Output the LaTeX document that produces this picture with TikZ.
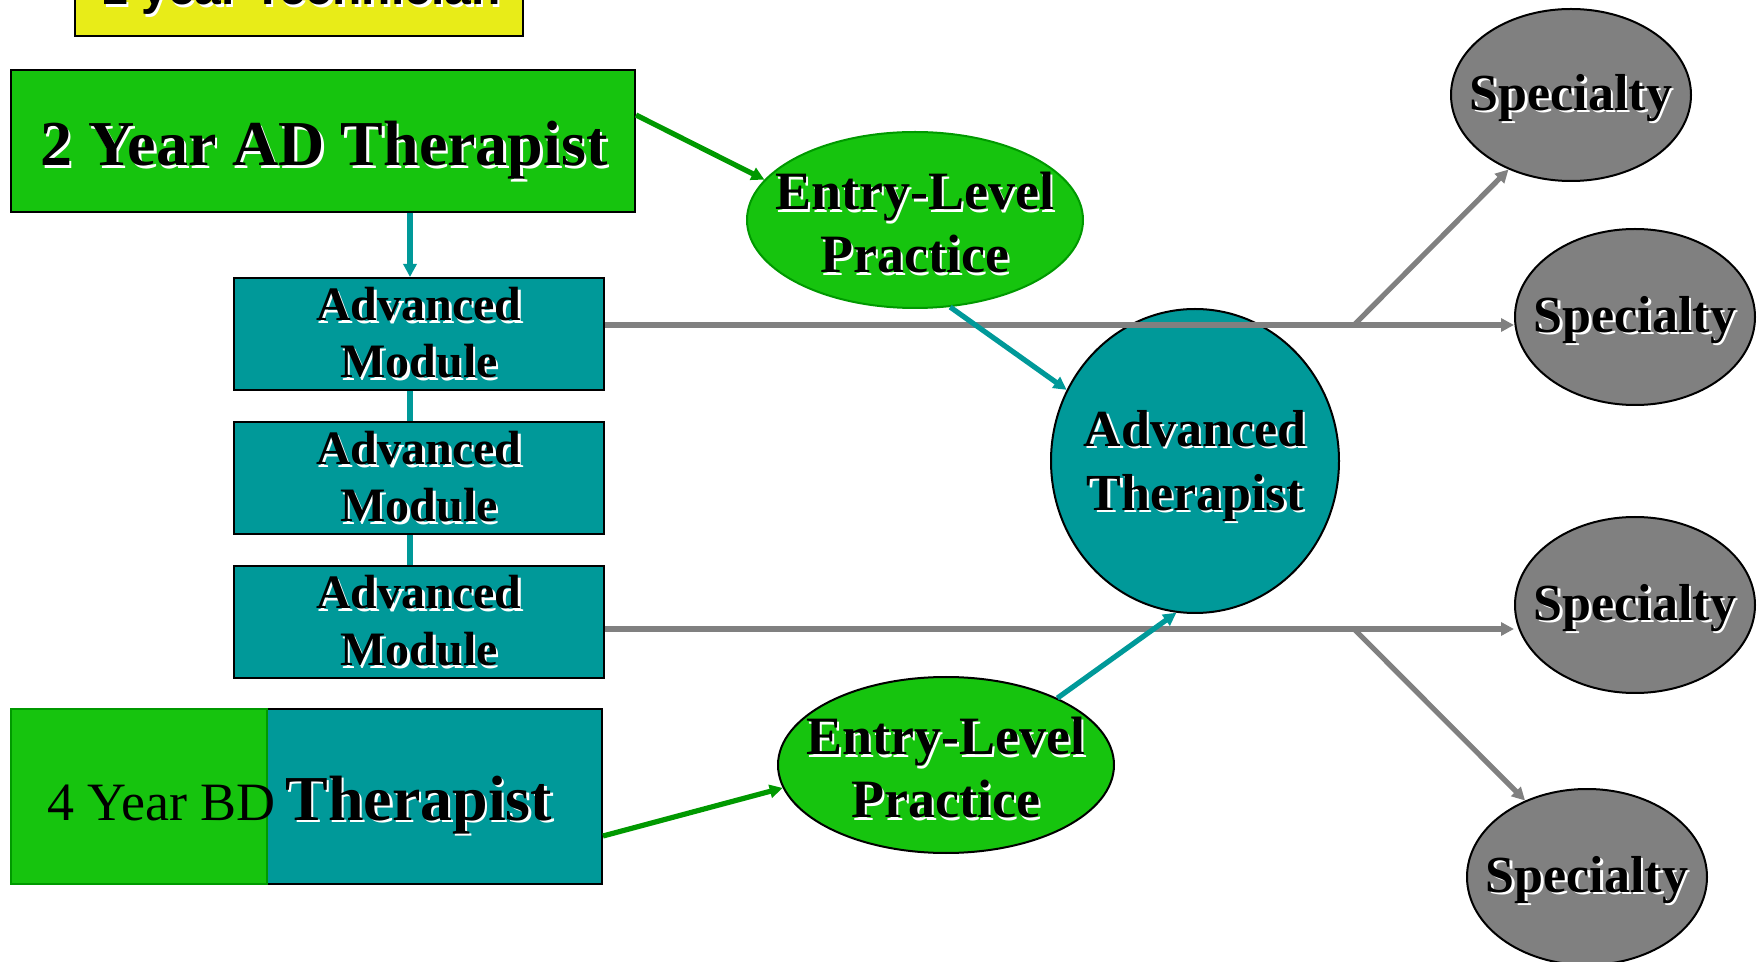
\documentclass[tikz,border=0pt]{standalone}
\usepackage{fontspec}
\setmainfont{Liberation Serif}
\newfontfamily\arialfont{Liberation Sans}
\usetikzlibrary{arrows.meta,shapes.geometric,calc}
\definecolor{ygold}{RGB}{232,236,24}
\definecolor{bgreen}{RGB}{22,196,14}
\definecolor{dgreen}{RGB}{0,153,0}
\definecolor{tealc}{RGB}{0,153,153}
\definecolor{greyc}{RGB}{128,128,128}
\newcommand\shd[1]{\leavevmode\rlap{\kern1.2pt\raisebox{-1.2pt}{\textcolor{white}{#1}}}#1}
\begin{document}
\begin{tikzpicture}[x=0.5pt,y=-0.5pt,
  box/.style={draw=black,line width=1pt,inner sep=0pt},
  ell/.style={ellipse,draw=black,line width=1pt,inner sep=0pt},
  garrow/.style={draw=dgreen,line width=2.6pt,-{Triangle[length=6.5pt,width=6.5pt]}},
  tarrow/.style={draw=tealc,line width=2.6pt,-{Triangle[length=6.5pt,width=6.5pt]}},
  tline/.style={draw=tealc,line width=2.6pt},
  grarrow/.style={draw=greyc,line width=2.6pt,-{Triangle[length=6.5pt,width=6.5pt]}},
  bigf/.style={font=\bfseries\fontsize{32}{36}\selectfont},
  modf/.style={font=\bfseries\fontsize{24}{28.5}\selectfont},
  entf/.style={font=\bfseries\fontsize{27}{31.5}\selectfont,align=center},
  advf/.style={font=\bfseries\fontsize{26}{32}\selectfont,align=center},
  spcf/.style={font=\bfseries\fontsize{26}{30}\selectfont}]
\useasboundingbox (0,0) rectangle (1758,962);

% top yellow box (cut by the page)
\node[box,fill=ygold,minimum width=224pt,minimum height=48pt] (yel) at (299,-12) {};
\node[anchor=base,inner sep=0pt,font=\arialfont\bfseries\fontsize{24}{28}\selectfont] (ytxt) at (301,5) {\shd{1 year Technician}};

% 2 year AD box
\node[box,fill=bgreen,minimum width=312pt,minimum height=71pt] (ad) at (323,141) {};
\node[anchor=base,inner sep=0pt,bigf] (adtxt) at (324,166) {\shd{2 Year AD Therapist}};

% modules
\node[box,fill=tealc,minimum width=185pt,minimum height=56pt,modf,align=center] (m1) at (419,334) {\shd{Advanced}\\\shd{Module}};
\node[box,fill=tealc,minimum width=185pt,minimum height=56pt,modf,align=center] (m2) at (419,478) {\shd{Advanced}\\\shd{Module}};
\node[box,fill=tealc,minimum width=185pt,minimum height=56pt,modf,align=center] (m3) at (419,622) {\shd{Advanced}\\\shd{Module}};

% 4 year BD box
\node[box,fill=tealc,minimum width=295.5pt,minimum height=87.5pt] (bd) at (306.5,796.5) {};
\node[draw=dgreen,line width=1pt,fill=bgreen,minimum width=128pt,minimum height=87.5pt,inner sep=0pt] (bdg) at (139,796.5) {};
\node[anchor=base west,inner sep=0pt,font=\fontsize{27}{30}\selectfont] (bdtxt) at (47,820) {4 Year BD};
\node[anchor=base west,inner sep=0pt,bigf] (thtxt) at (285,820) {\shd{Therapist}};

% ellipses
\node[ell,draw=dgreen,fill=bgreen,minimum width=168pt,minimum height=88pt,
  label={[entf,yshift=-2pt]center:{\shd{Entry-Level}\\\shd{Practice}}}] (e1) at (915,220) {};
\node[ell,fill=bgreen,minimum width=168pt,minimum height=88pt,
  label={[entf,yshift=-2pt]center:{\shd{Entry-Level}\\\shd{Practice}}}] (e2) at (946,765) {};
\node[ell,fill=tealc,minimum width=144pt,minimum height=152pt,
  label={[advf,yshift=-3pt]center:{\shd{Advanced}\\\shd{Therapist}}}] (adv) at (1195,461) {};
\node[ell,fill=greyc,minimum width=120pt,minimum height=86pt,
  label={[spcf,yshift=-2pt]center:{\shd{Specialty}}}] (s1) at (1571,95) {};
\node[ell,fill=greyc,minimum width=120pt,minimum height=88pt,
  label={[spcf,yshift=-2pt]center:{\shd{Specialty}}}] (s2) at (1635,317) {};
\node[ell,fill=greyc,minimum width=120pt,minimum height=88pt,
  label={[spcf,yshift=-2pt]center:{\shd{Specialty}}}] (s3) at (1635,605) {};
\node[ell,fill=greyc,minimum width=120pt,minimum height=88pt,
  label={[spcf,yshift=-2pt]center:{\shd{Specialty}}}] (s4) at (1587,877) {};

% connectors
\draw[garrow] ([yshift=13pt]ad.east) -- (e1.165);
\draw[tarrow] ([xshift=-4.5pt]m1.north |- ad.south) -- ([xshift=-4.5pt]m1.north);
\draw[tline] ([xshift=-4.5pt]m1.south) -- ([xshift=-4.5pt]m2.north);
\draw[tline] ([xshift=-4.5pt]m2.south) -- ([xshift=-4.5pt]m3.north);

\coordinate (br1) at (1354,325);
\coordinate (br2) at (1354,629);
\draw[grarrow] ([yshift=4.5pt]m1.east) -- ([yshift=4.5pt]m1.east -| s2.west);
\draw[grarrow] (br1) -- (s1.230);
\draw[grarrow] ([yshift=-3.5pt]m3.east) -- ([yshift=-3.5pt]m3.east -| s3.west);
\draw[grarrow] (br2) -- (s4.129);

\draw[tarrow] (e1.292) -- (adv.151);
\draw[tarrow] (e2.31) -- (adv.263);
\draw[garrow] ([yshift=-19.75pt]bd.east) -- (e2.188);
\end{tikzpicture}
\end{document}
